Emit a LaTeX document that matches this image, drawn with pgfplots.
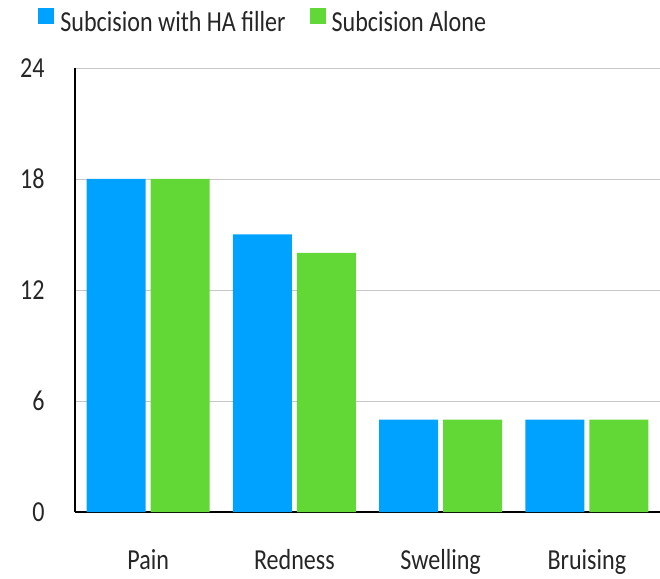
\documentclass[border=0pt]{standalone}
\usepackage{pgfplots}
\pgfplotsset{compat=1.18}
\usepackage{fontspec}
\setmainfont[FakeStretch=0.83]{Carlito}
\definecolor{cblue}{HTML}{00A2FF}
\definecolor{cgreen}{HTML}{61D836}
\begin{document}
\begin{tikzpicture}
\path[use as bounding box] (-75pt,-66pt) rectangle (585pt,512pt);
\begin{axis}[
  at={(0pt,0pt)}, anchor=south west,
  scale only axis, width=585pt, height=444pt,
  ybar, bar width=59pt,
  xmin=-0.5, xmax=3.5, ymin=0, ymax=24,
  xtick=data, xticklabels={Pain,Redness,Swelling,Bruising},
  ytick={0,6,12,18,24},
  ymajorgrids, grid style={draw=gray!45, line width=0.8pt},
  axis x line*=bottom, axis y line*=left,
  axis line style={line width=1.5pt, black},
  x axis line style={-}, y axis line style={-},
  major tick length=0pt,
  tick label style={font=\fontsize{29}{32}\selectfont, text=black!85},
  /pgf/number format/assume math mode=true,
  yticklabel style={xshift=-27pt},
  xticklabel style={yshift=-34pt},
  legend columns=2,
  legend style={draw=none, at={(rel axis cs:-0.068,1.104)}, anchor=west,
    font=\fontsize{29}{32}\selectfont, text=black!85,
    /tikz/every odd column/.append style={column sep=4pt},
    /tikz/every even column/.append style={column sep=22pt}},
  legend cell align=left,
  legend image code/.code={\fill[#1] (0pt,-2pt) rectangle (16pt,14pt);},
]
\addplot[fill=cblue, draw=none, bar shift=-32pt] coordinates {(0,18) (1,15) (2,5) (3,5)};
\addplot[fill=cgreen, draw=none, bar shift=32pt] coordinates {(0,18) (1,14) (2,5) (3,5)};
\legend{Subcision with HA filler,Subcision Alone}
\end{axis}
\end{tikzpicture}
\end{document}
